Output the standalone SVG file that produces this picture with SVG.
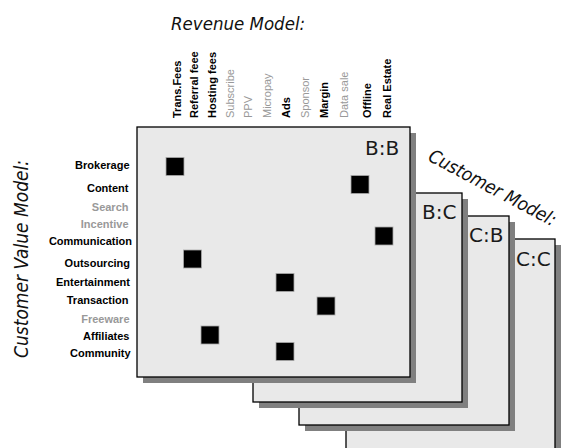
<svg xmlns="http://www.w3.org/2000/svg" width="562" height="448" viewBox="0 0 562 448">
<style>
.bg{fill:#ffffff}
.shadow{fill:#808080}
.panel{fill:#e9e9e9;stroke:#000;stroke-width:1.3}
.plabel{font-family:"DejaVu Sans","Verdana",sans-serif;font-size:20px;fill:#1a1a1a}
.axis{font-family:"DejaVu Sans Condensed","DejaVu Sans",sans-serif;font-stretch:condensed;font-style:italic;fill:#111}
.row{font-family:"Liberation Sans",Arial,sans-serif;font-size:11px;font-weight:bold;text-anchor:end;fill:#000}
.col{font-family:"Liberation Sans",Arial,sans-serif;font-size:11px;font-weight:bold;fill:#000}
.dim{fill:#999999}
.reg{font-weight:normal}
.mark{fill:#000;stroke:#a8a8a8;stroke-width:0.8}
</style>
<rect class="bg" x="0" y="0" width="562" height="448"/>
<g id="connectors"/>
<g id="panel-CC">
<rect class="shadow" x="352" y="245" width="209" height="215"/>
<rect class="panel" x="346" y="239" width="209" height="215"/>
<text class="plabel" x="516" y="266">C:C</text>
</g>
<g id="panel-CB">
<rect class="shadow" x="305" y="222" width="210" height="209"/>
<rect class="panel" x="299" y="216" width="210" height="209"/>
<text class="plabel" x="469" y="242">C:B</text>
</g>
<g id="panel-BC">
<rect class="shadow" x="259" y="199" width="209" height="209"/>
<rect class="panel" x="253" y="193" width="209" height="209"/>
<text class="plabel" x="422" y="219">B:C</text>
</g>
<g id="panel-BB">
<rect class="shadow" x="143" y="133" width="273" height="250"/>
<rect class="panel" x="137" y="127" width="273" height="250"/>
<text class="plabel" x="365" y="155">B:B</text>
<rect class="mark" x="166" y="157.5" width="18" height="18"/>
<rect class="mark" x="351" y="175.5" width="18" height="18"/>
<rect class="mark" x="375" y="227" width="18" height="18"/>
<rect class="mark" x="183.5" y="250" width="18" height="18"/>
<rect class="mark" x="276" y="273.5" width="18" height="18"/>
<rect class="mark" x="317" y="297" width="18" height="18"/>
<rect class="mark" x="201" y="326" width="18" height="18"/>
<rect class="mark" x="276" y="342.5" width="18" height="18"/>
</g>
<g id="revenue-model">
<text class="axis" x="171" y="30" font-size="18.5">Revenue Model:</text>
<text class="col" transform="translate(181,118) rotate(-90)">Trans.Fees</text>
<text class="col" transform="translate(198,118) rotate(-90)">Referral feee</text>
<text class="col" transform="translate(216,118) rotate(-90)">Hosting fees</text>
<text class="col dim reg" transform="translate(234,118) rotate(-90)">Subscribe</text>
<text class="col dim reg" transform="translate(252,118) rotate(-90)">PPV</text>
<text class="col dim reg" transform="translate(271,118) rotate(-90)">Micropay</text>
<text class="col" transform="translate(290,118) rotate(-90)">Ads</text>
<text class="col dim reg" transform="translate(309,118) rotate(-90)">Sponsor</text>
<text class="col" transform="translate(328,118) rotate(-90)">Margin</text>
<text class="col dim reg" transform="translate(348,118) rotate(-90)">Data sale</text>
<text class="col" transform="translate(371,118) rotate(-90)">Offline</text>
<text class="col" transform="translate(391,118) rotate(-90)">Real Estate</text>
</g>
<g id="customer-value-model">
<text class="axis" font-size="19" transform="translate(28,358) rotate(-90)">Customer Value Model:</text>
<text class="row" x="129.5" y="168.5">Brokerage</text>
<text class="row" x="128.5" y="191.5">Content</text>
<text class="row dim" x="128.5" y="211">Search</text>
<text class="row dim" x="128.5" y="227.5">Incentive</text>
<text class="row" x="132" y="245">Communication</text>
<text class="row" x="130" y="267">Outsourcing</text>
<text class="row" x="130" y="285.5">Entertainment</text>
<text class="row" x="128.5" y="304">Transaction</text>
<text class="row dim" x="129.5" y="322.5">Freeware</text>
<text class="row" x="129.5" y="340">Affiliates</text>
<text class="row" x="130.5" y="356.5">Community</text>
</g>
<g id="customer-model">
<text class="axis" font-size="18.5" transform="translate(427,160) rotate(28)">Customer Model:</text>
</g>
</svg>
